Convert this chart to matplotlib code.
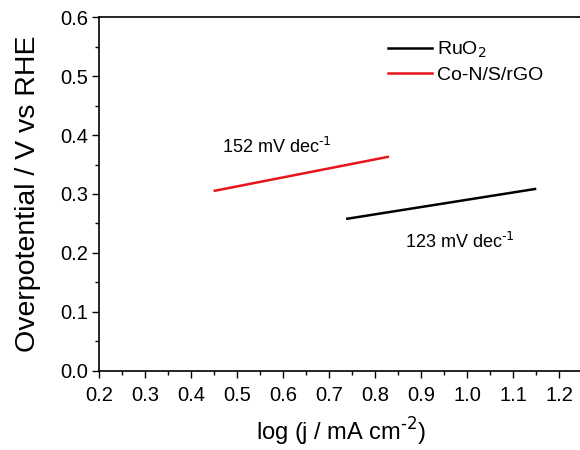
import matplotlib.pyplot as plt

plt.rcParams['font.family'] = ['Liberation Sans', 'DejaVu Sans']

# Tafel fits
ruo2_x = [0.739, 1.147]
ruo2_y = [0.258, 0.3085]
cons_x = [0.451, 0.827]
cons_y = [0.3055, 0.363]

labels = ['RuO$_2$', 'Co-N/S/rGO']
slopes = [r'152 mV dec$^{\text{-1}}$', r'123 mV dec$^{\text{-1}}$']

fig = plt.figure(figsize=(5.8, 4.5), dpi=100)
ax = fig.add_axes([0.1712, 0.1762, 0.833, 0.7854])

ax.plot(ruo2_x, ruo2_y, color='black', lw=1.8, label=labels[0])
ax.plot(cons_x, cons_y, color='#e8141b', lw=1.8, label=labels[1])

ax.text(0.466, 0.3696, slopes[0], fontsize=13, va='baseline')
ax.text(0.8646, 0.2083, slopes[1], fontsize=13, va='baseline')

ax.set_xlim(0.2, 1.25)
ax.set_ylim(0.0, 0.6)
ax.set_xticks([0.2 + 0.1 * i for i in range(11)])
ax.set_yticks([0.1 * i for i in range(7)])
ax.set_xticks([0.25 + 0.1 * i for i in range(10)], minor=True)
ax.set_yticks([0.05 + 0.1 * i for i in range(6)], minor=True)
ax.xaxis.set_major_formatter(plt.FormatStrFormatter('%.1f'))
ax.yaxis.set_major_formatter(plt.FormatStrFormatter('%.1f'))
ax.tick_params(which='both', direction='out', top=False, right=False, width=1)
ax.tick_params(which='major', length=5, labelsize=14.5, pad=3)
ax.tick_params(axis='x', which='major', pad=6)
ax.tick_params(which='minor', length=3)
for s in ax.spines.values():
    s.set_linewidth(1.2)

ax.set_xlabel(r'log (j / mA cm$^{\text{-2}}$)', fontsize=17, labelpad=8)
ax.set_ylabel('Overpotential / V vs RHE', fontsize=20.5, labelpad=14)

ax.legend(loc='upper left', bbox_to_anchor=(0.561, 0.985), frameon=False,
          fontsize=14, handlelength=2.27, handletextpad=0.26, labelspacing=0.3)

fig.savefig('out.png', dpi=100)
